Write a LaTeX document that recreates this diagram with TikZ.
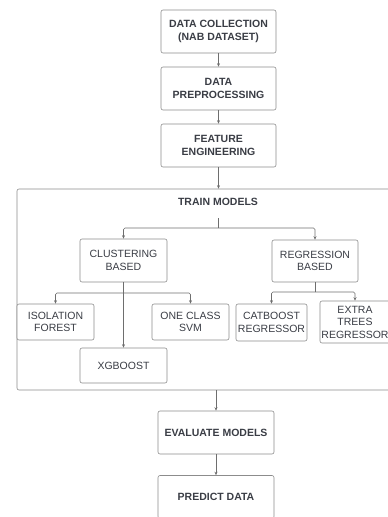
\documentclass[tikz,border=0pt]{standalone}
\usepackage{xcolor}
\usepackage{fontspec}
\setmainfont{Liberation Sans}
\usetikzlibrary{arrows.meta}
\definecolor{boxline}{HTML}{8C8C8C}
\definecolor{boxtext}{HTML}{3A3D45}
\definecolor{flowline}{HTML}{6E6E6E}

\tikzset{
  stagebox/.style={draw=boxline, rectangle, rounded corners=2pt, fill=white, text=boxtext, align=center, inner sep=0pt, line width=0.6pt, font=\fontsize{10.5pt}{13pt}\selectfont\bfseries},
  modelbox/.style={stagebox, font=\fontsize{10.5pt}{12.5pt}\selectfont},
  flow/.style={draw=flowline, line width=0.6pt, rounded corners=1.5pt},
  flowarr/.style={flow, -{Stealth[length=3.5pt,width=3pt]}},
}

\begin{document}
\begin{tikzpicture}[x=1pt, y=-1pt]%
\useasboundingbox (0,0) rectangle (388,517);%
\clip (0,0) rectangle (388,517);%
% main pipeline
\node[stagebox, minimum width=115pt, minimum height=43pt] (collect) at (218.5, 31.5) {DATA COLLECTION\\(NAB DATASET)};%
\node[stagebox, minimum width=115pt, minimum height=43pt] (prep) at (218.5, 88.5) {DATA\\PREPROCESSING};%
\node[stagebox, minimum width=115pt, minimum height=43pt] (feat) at (218.5, 145.5) {FEATURE\\ENGINEERING};%
\node[draw=boxline, rectangle, rounded corners=2pt, line width=0.6pt, minimum width=381pt, minimum height=201pt] (trainframe) at (207.5, 289.5) {};%
\node[stagebox, draw=none, fill=none] (traintitle) at (218, 202) {TRAIN MODELS};%
% model boxes
\node[modelbox, minimum width=87pt, minimum height=43pt] (clus) at (123.5, 260.5) {CLUSTERING\\BASED};%
\node[modelbox, minimum width=86pt, minimum height=42pt] (regr) at (315, 261) {REGRESSION\\BASED};%
\node[modelbox, minimum width=77pt, minimum height=36pt] (iso) at (55.5, 322) {ISOLATION\\FOREST};%
\node[modelbox, minimum width=77pt, minimum height=36pt] (ocsvm) at (190.5, 322) {ONE CLASS\\SVM};%
\node[modelbox, minimum width=87pt, minimum height=35pt] (xgb) at (123.5, 365.5) {XGBOOST};%
\node[modelbox, minimum width=71pt, minimum height=37pt] (cat) at (271.5, 322.5) {CATBOOST\\REGRESSOR};%
\node[modelbox, minimum width=70pt, minimum height=42pt] (extra) at (355, 322) {EXTRA\\TREES\\REGRESSOR};%
\node[stagebox, minimum width=116pt, minimum height=43pt] (eval) at (216, 432.5) {EVALUATE MODELS};%
\node[stagebox, minimum width=116pt, minimum height=43pt] (pred) at (216, 497) {PREDICT DATA};%
% branch points
\coordinate (tstem) at (218, 218);%
\coordinate (tsplit) at (218, 228);%
\coordinate (csplit) at (123.5, 293);%
\coordinate (rsplit) at (315, 292);%
% connectors
\draw[flowarr] (collect) -- (prep);%
\draw[flowarr] (prep) -- (feat);%
\draw[flowarr] (feat.south) -- (feat.south |- trainframe.north);%
\draw[flow] (tstem) -- (tsplit);%
\draw[flowarr] (tsplit) -| (clus.north);%
\draw[flowarr] (tsplit) -| (regr.north);%
\draw[flow] (clus.south) -- (csplit);%
\draw[flowarr] (csplit) -| (iso.north);%
\draw[flowarr] (csplit) -| (ocsvm.north);%
\draw[flowarr] (clus.south) -- (xgb.north);%
\draw[flow] (regr.south) -- (rsplit);%
\draw[flowarr] (rsplit) -| (cat.north);%
\draw[flowarr] (rsplit) -| (extra.north);%
\draw[flowarr] (eval.north |- trainframe.south) -- (eval.north);%
\draw[flowarr] (eval) -- (pred);%
\end{tikzpicture}
\end{document}
